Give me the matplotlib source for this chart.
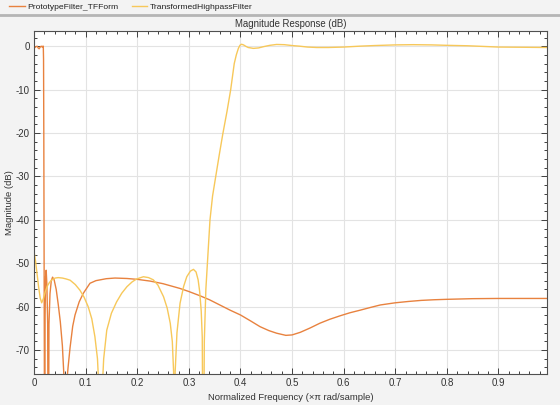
import matplotlib
matplotlib.use("Agg")
import matplotlib.pyplot as plt
from matplotlib.lines import Line2D
from matplotlib.ticker import MultipleLocator

plt.rcParams['font.family'] = ['Liberation Sans', 'DejaVu Sans']

# Prototype lowpass (orange)
proto_f = [0, 0.002, 0.004, 0.006, 0.008, 0.010, 0.012, 0.014, 0.016, 0.017, 0.018,
           0.0185, 0.019, 0.0195, 0.0200, 0.0205, 0.0215, 0.0225, 0.0236, 0.0250,
           0.0265, 0.0277, 0.0290, 0.031, 0.0335, 0.036, 0.039, 0.043, 0.047, 0.051,
           0.055, 0.058, 0.0605, 0.063, 0.066, 0.0698, 0.075, 0.0795, 0.0875, 0.0956,
           0.1085, 0.12, 0.14, 0.157, 0.18, 0.2, 0.225, 0.25, 0.283, 0.3, 0.322, 0.34,
           0.36, 0.38, 0.4, 0.42, 0.438, 0.455, 0.47, 0.488, 0.5, 0.516, 0.535, 0.554,
           0.573, 0.593, 0.612, 0.632, 0.651, 0.671, 0.7, 0.725, 0.75, 0.775, 0.8,
           0.85, 0.9, 0.95, 0.994]
proto_db = [0.0, -0.3, -0.1, 0.0, -0.4, -0.6, -0.2, 0.0, -0.2, 0.0, 0.0,
            -3, -20, -45, -70, -110, -62, -53, -51.6, -55,
            -64, -110, -64, -57, -54, -53.2, -53.8, -56, -59.5, -63.5,
            -69, -76, -110, -78, -74, -69.5, -64.5, -61.9, -58.9, -56.9,
            -54.6, -54.0, -53.55, -53.4, -53.5, -53.7, -54.1, -54.7, -55.8, -56.5, -57.5, -58.4,
            -59.6, -60.8, -61.9, -63.3, -64.6, -65.5, -66.1, -66.6, -66.5, -65.9, -64.9, -63.8,
            -62.9, -62.1, -61.4, -60.8, -60.2, -59.6, -59.1, -58.8, -58.55, -58.4, -58.3,
            -58.15, -58.1, -58.1, -58.1]

# Transformed highpass (yellow)
hp_f = [0, 0.003, 0.006, 0.009, 0.012, 0.0149, 0.018, 0.022, 0.026, 0.030, 0.035,
        0.041, 0.047, 0.055, 0.062, 0.070, 0.080, 0.089, 0.097, 0.105, 0.112, 0.118,
        0.123, 0.127, 0.129, 0.131, 0.135, 0.141, 0.150, 0.160, 0.170, 0.180, 0.190,
        0.199, 0.212, 0.222, 0.231, 0.240, 0.251, 0.258, 0.264, 0.268, 0.2705, 0.272,
        0.2735, 0.277, 0.283, 0.290, 0.296, 0.303, 0.309, 0.314, 0.318, 0.321, 0.324,
        0.326, 0.328, 0.330, 0.333, 0.336, 0.341, 0.346, 0.352, 0.359, 0.366, 0.374,
        0.381, 0.388, 0.392, 0.396, 0.399, 0.402, 0.406, 0.410, 0.415, 0.425, 0.435,
        0.445, 0.457, 0.47, 0.485, 0.5, 0.515, 0.53, 0.548, 0.57, 0.6, 0.63, 0.66,
        0.7, 0.735, 0.77, 0.8, 0.84, 0.87, 0.9, 0.95, 0.994]
hp_db = [-47.3, -49.5, -52.5, -55.5, -58.0, -59.1, -58.2, -56.5, -55.2, -54.4, -53.8,
         -53.4, -53.3, -53.4, -53.6, -53.9, -54.9, -56.2, -57.8, -60.0, -62.8, -66.9,
         -72, -82, -110, -82, -72, -65.4, -61.5, -58.9, -56.9, -55.4, -54.3,
         -53.6, -53.1, -53.3, -53.8, -55.0, -57.7, -60.3, -63.8, -68, -75, -110,
         -75, -66, -59.2, -55.3, -53.1, -51.8, -51.4, -52.0, -53.8, -56.5, -61,
         -67, -110, -68, -56, -50.0, -40.0, -34.5, -30.1, -25, -20.1, -15,
         -10.1, -4.0, -2.0, -0.5, 0.2, 0.45, 0.3, 0.0, -0.3, -0.5, -0.4,
         -0.1, 0.2, 0.4, 0.35, 0.15, 0.0, -0.2, -0.3, -0.3, -0.2, 0.0, 0.15,
         0.3, 0.35, 0.3, 0.2, 0.1, -0.05, -0.2, -0.25, -0.3]

series_names = ['PrototypeFilter_TFForm', 'TransformedHighpassFilter']
x_ticks = [0, 0.1, 0.2, 0.3, 0.4, 0.5, 0.6, 0.7, 0.8, 0.9]
x_labels = ['0', '0.1', '0.2', '0.3', '0.4', '0.5', '0.6', '0.7', '0.8', '0.9']
y_ticks = [0, -10, -20, -30, -40, -50, -60, -70]
y_labels = ['0', '-10', '-20', '-30', '-40', '-50', '-60', '-70']

bg = '#f3f3f3'
fig = plt.figure(figsize=(5.6, 4.05), dpi=100, facecolor=bg)
ax = fig.add_axes([34/560, 1-374/405, (547-34)/560, (374-31)/405])
ax.set_facecolor('white')

l1, = ax.plot(proto_f, proto_db, color='#e8823f', lw=1.0, label=series_names[0])
l2, = ax.plot(hp_f, hp_db, color='#f7c85a', lw=1.0, label=series_names[1])

ax.set_xlim(0, 0.994)
ax.set_ylim(-75.5, 3.5)
ax.set_xticks(x_ticks)
ax.set_xticklabels(x_labels)
ax.set_yticks(y_ticks)
ax.set_yticklabels(y_labels)
ax.xaxis.set_minor_locator(MultipleLocator(0.02))
ax.yaxis.set_minor_locator(MultipleLocator(2))
ax.tick_params(which='both', direction='in', top=True, right=True,
               colors='#404040', labelsize=7, width=0.7)
ax.tick_params(which='major', length=4, pad=3)
ax.tick_params(which='minor', length=2.5)
for lab in ax.get_xticklabels() + ax.get_yticklabels():
    lab.set_color('#333333')
ax.grid(True, which='major', color='#e3e3e3', lw=0.8)
ax.set_axisbelow(True)
for s in ax.spines.values():
    s.set_color('#505050')
    s.set_linewidth(0.8)

ax.set_title('Magnitude Response (dB)', fontsize=6.9, color='#333333', pad=3)
ax.set_xlabel('Normalized Frequency (\u00d7\u03c0 rad/sample)', fontsize=6.8,
              color='#333333')
ax.xaxis.set_label_coords(0.5, -0.054)
ax.set_ylabel('Magnitude (dB)', fontsize=6.8, color='#333333')
ax.yaxis.set_label_coords(-0.039, 0.5)

fig.legend(handles=[l1, l2], loc='upper left', bbox_to_anchor=(0.003, 1.012),
           ncol=2, frameon=False, fontsize=6.1, handlelength=1.8,
           handletextpad=0.3, columnspacing=1.6, labelcolor='#222222')
fig.add_artist(Line2D([0, 1], [1-14.5/405, 1-14.5/405], transform=fig.transFigure,
                      color='#b5b5b5', lw=2))

fig.savefig('out.png', dpi=100, facecolor=bg)
